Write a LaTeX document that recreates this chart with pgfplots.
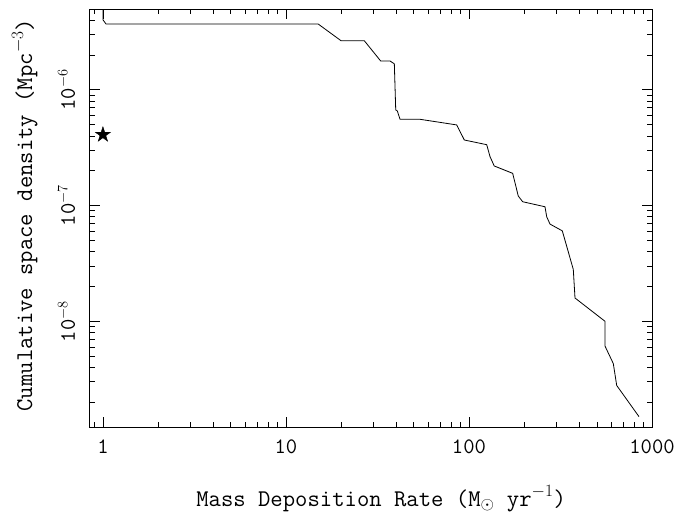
\documentclass[border=0pt]{standalone}
\usepackage{fontspec}
\usepackage{pgfplots}
\pgfplotsset{compat=1.18}
\pgfdeclareplotmark{fstar}{%
  \pgfpathmoveto{\pgfpointpolar{90}{\pgfplotmarksize}}%
  \pgfpathlineto{\pgfpointpolar{126}{0.382\pgfplotmarksize}}%
  \pgfpathlineto{\pgfpointpolar{162}{\pgfplotmarksize}}%
  \pgfpathlineto{\pgfpointpolar{198}{0.382\pgfplotmarksize}}%
  \pgfpathlineto{\pgfpointpolar{234}{\pgfplotmarksize}}%
  \pgfpathlineto{\pgfpointpolar{270}{0.382\pgfplotmarksize}}%
  \pgfpathlineto{\pgfpointpolar{306}{\pgfplotmarksize}}%
  \pgfpathlineto{\pgfpointpolar{342}{0.382\pgfplotmarksize}}%
  \pgfpathlineto{\pgfpointpolar{18}{\pgfplotmarksize}}%
  \pgfpathlineto{\pgfpointpolar{54}{0.382\pgfplotmarksize}}%
  \pgfpathclose
  \pgfusepathqfillstroke}
\newcommand{\tickfont}{\fontsize{22}{26}\selectfont\ttfamily}
\newcommand{\lblfont}{\fontsize{24}{28}\selectfont\ttfamily}
\begin{document}
\begin{tikzpicture}
\useasboundingbox (-90pt,-87pt) rectangle (600pt,427pt);
\begin{axis}[
  at={(0pt,0pt)}, anchor=south west,
  scale only axis, width=562pt, height=418pt,
  xmode=log, ymode=log,
  xmin=0.85, xmax=1000, ymin=1.22e-9, ymax=5.0e-6,
  tick align=inside,
  major tick length=10pt, minor tick length=5pt,
  every tick/.style={black, line width=0.8pt},
  axis line style={line width=1pt},
  xtick={1,10,100,1000}, xticklabels={1,10,100,1000},
  minor xtick={0.9,2,3,4,5,6,7,8,9,20,30,40,50,60,70,80,90,200,300,400,500,600,700,800,900},
  ytick={1e-8,1e-7,1e-6},
  yticklabels={\texttt{10}$^{-8}$,\texttt{10}$^{-7}$,\texttt{10}$^{-6}$},
  minor ytick={2e-9,3e-9,4e-9,5e-9,6e-9,7e-9,8e-9,9e-9,2e-8,3e-8,4e-8,5e-8,6e-8,7e-8,8e-8,9e-8,2e-7,3e-7,4e-7,5e-7,6e-7,7e-7,8e-7,9e-7,2e-6,3e-6,4e-6},
  tick label style={font=\tickfont},
  xticklabel style={anchor=base}, xticklabel shift=26pt,
  yticklabel style={rotate=90, anchor=base}, yticklabel shift=15pt,
  xlabel={Mass Deposition Rate (M$_\odot$ yr$^{-1}$)},
  xlabel style={font=\lblfont, at={(axis description cs:0.518,-0.189)}, anchor=base},
  ylabel={Cumulative space density (Mpc$^{-3}$)},
  ylabel style={font=\lblfont, at={(axis description cs:-0.103,0.507)}, anchor=base, rotate=0},
]
\addplot[black, line width=0.8pt] coordinates {
(1,6e-6) (1,4.04e-6) (1.04,3.71e-6) (15.0,3.71e-6) (20.0,2.66e-6) (26.8,2.66e-6)
(32.9,1.78e-6) (37.0,1.78e-6) (39.1,1.68e-6) (39.8,6.71e-7) (40.6,6.58e-7)
(42.0,5.57e-7) (54.0,5.57e-7) (85.7,4.98e-7) (94.3,3.69e-7) (125,3.36e-7)
(130.3,2.65e-7) (137.4,2.20e-7) (173.3,1.90e-7) (185.9,1.21e-7) (196.5,1.08e-7)
(260.2,9.77e-8) (265.9,8.00e-8) (277.2,6.92e-8) (323.5,6.05e-8) (371.5,2.81e-8)
(379.6,1.59e-8) (553.6,1.0e-8) (553.6,6.11e-9) (614.6,4.31e-9) (641.4,2.79e-9)
(849,1.50e-9)
};
\addplot[only marks, mark=fstar, mark size=8pt, black] coordinates {(1,4.1e-7)};
\end{axis}
\end{tikzpicture}
\end{document}
